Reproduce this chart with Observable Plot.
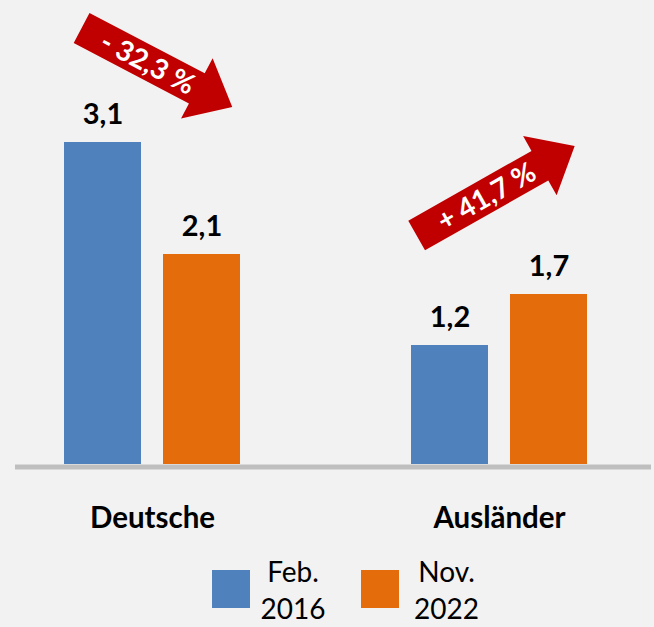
<!DOCTYPE html>
<html><head><meta charset="utf-8">
<script src="https://cdn.jsdelivr.net/npm/d3@7"></script>
<script src="https://cdn.jsdelivr.net/npm/@observablehq/plot@0.6"></script>
<style>
body{margin:0;background:#f2f2f2;font-family:Lato,"Noto Sans",sans-serif;}
#chart{position:relative;width:654px;height:627px;overflow:hidden;background:#f2f2f2}
#legend{position:absolute;left:0;top:550px;width:654px;height:77px}
.sw{position:absolute;width:38px;height:38px;top:20px}
.lt{position:absolute;width:100px;text-align:center;font-size:28px;line-height:37px;top:3px;color:#000}
</style></head><body>
<div id="chart"><div id="legend"></div></div>
<script>
// ---- data ----
const groups = ["Deutsche", "Ausländer"];
const series = ["Feb. 2016", "Nov. 2022"];
const seriesLines = [["Feb.", "2016"], ["Nov.", "2022"]];
const valuesFeb = [3.22, 1.19];          // bar heights
const valuesNov = [2.10, 1.70];
const labelsFeb = ["3,1", "1,2"];        // printed value labels
const labelsNov = ["2,1", "1,7"];
const changeLabels = ["- 32,3 %", "+ 41,7 %"];
const colors = ["#4f81bd", "#e46c0a"];

// ---- annotation placement (band fraction, y value) ----
const arrowPlacement = [
  {group: "Deutsche", from: [0.10, 4.36], to: [0.956, 3.57]},
  {group: "Ausländer", from: [0.032, 2.285], to: [0.93, 3.18]}
];

const rowsFeb = groups.map((g, i) => ({group: g, series: series[0], value: valuesFeb[i], label: labelsFeb[i]}));
const rowsNov = groups.map((g, i) => ({group: g, series: series[1], value: valuesNov[i], label: labelsNov[i]}));

const labelStyle = {fontSize: 29, fontWeight: "bold", fill: "black", lineAnchor: "bottom", dy: -19};

const plot = Plot.plot({
  width: 654, height: 550,
  marginTop: 0, marginBottom: 86, marginLeft: 15, marginRight: 3,
  style: {background: "#f2f2f2", fontFamily: "Lato, 'Noto Sans', sans-serif", overflow: "visible"},
  x: {domain: groups, range: [64, 587], paddingInner: 0.4928, paddingOuter: 0},
  y: {domain: [0, 4.64], axis: null},
  color: {domain: series, range: colors},
  marks: [
    Plot.barY(rowsFeb, {x: "group", y: "value", fill: "series", insetRight: 99}),
    Plot.barY(rowsNov, {x: "group", y: "value", fill: "series", insetLeft: 99}),
    Plot.ruleY([0], {stroke: "#bfbfbf", strokeWidth: 5, dy: 2.5}),
    Plot.text(rowsFeb, {x: "group", y: "value", text: "label", dx: -49.5, ...labelStyle}),
    Plot.text(rowsNov, {x: "group", y: "value", text: "label", dx: 49.5, ...labelStyle}),
    Plot.axisX({tickSize: 0, tickPadding: 43, fontSize: 29.5, fontWeight: "bold", color: "black", label: null})
  ]
});

const chart = document.getElementById("chart");
chart.insertBefore(plot, chart.firstChild);

// ---- block arrows via Plot scales ----
const sx = plot.scale("x"), sy = plot.scale("y");
const bw = sx.bandwidth;
const g = d3.select(plot).append("g");
arrowPlacement.forEach((a, i) => {
  const b = sx.apply(a.group);
  const T = [b + a.from[0] * bw, sy.apply(a.from[1])];
  const P = [b + a.to[0] * bw, sy.apply(a.to[1])];
  const dx = P[0] - T[0], dy = P[1] - T[1];
  const L = Math.hypot(dx, dy);
  const u = [dx / L, dy / L], n = [-u[1], u[0]];
  const hw = 17, hh = 34, hl = 40;
  const B = [P[0] - u[0] * hl, P[1] - u[1] * hl];
  const pt = (p, k) => [p[0] + n[0] * k, p[1] + n[1] * k];
  const pts = [pt(T, hw), pt(B, hw), pt(B, hh), P, pt(B, -hh), pt(B, -hw), pt(T, -hw)];
  g.append("polygon").attr("points", pts.map(p => p.join(",")).join(" ")).attr("fill", "#c00000");
  const C = [T[0] + u[0] * L * 0.44, T[1] + u[1] * L * 0.44];
  const ang = Math.atan2(dy, dx) * 180 / Math.PI;
  g.append("text")
    .attr("transform", `translate(${C[0]},${C[1]}) rotate(${ang})`)
    .attr("text-anchor", "middle").attr("dy", "0.36em")
    .attr("fill", "white").attr("font-weight", "bold").attr("font-size", 28)
    .attr("font-family", "Lato, 'Noto Sans', sans-serif")
    .text(changeLabels[i]);
});

// ---- legend ----
const legend = d3.select("#legend");
const swLeft = [212, 361], txtCenter = [293, 446.5];
series.forEach((s, i) => {
  legend.append("div").attr("class", "sw").style("left", swLeft[i] + "px").style("background", colors[i]);
  legend.append("div").attr("class", "lt").style("left", (txtCenter[i] - 50) + "px")
    .html(seriesLines[i].join("<br>"));
});
</script>
</body></html>
